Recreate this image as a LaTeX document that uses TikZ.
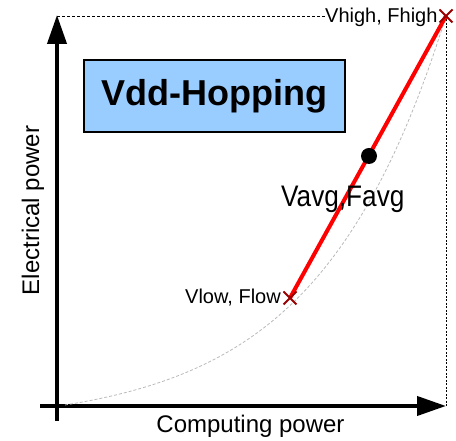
\documentclass[tikz,border=0pt]{standalone}
\usepackage{fontspec}
\setmainfont{Liberation Sans}
\begin{document}
\begin{tikzpicture}[x=1pt,y=1pt,
  axis/.style={line width=4pt, -{Triangle[length=29pt,width=19pt]}},
  guide/.style={black, line width=0.9pt, dash pattern=on 3pt off 2pt},
  curve/.style={gray!55, line width=0.8pt, dash pattern=on 3pt off 2pt},
  hop/.style={red, line width=4pt},
  mark cross/.style={draw=red!60!black, line width=1.9pt},
  lbl/.style={inner sep=0pt, font=\fontsize{20}{24}\selectfont},
  title/.style={draw=black, line width=1.5pt, fill={rgb,255:red,153;green,204;blue,255},
                minimum width=261pt, minimum height=72pt, inner sep=0pt,
                font=\fontsize{36}{40}\selectfont\bfseries}]
\usetikzlibrary{arrows.meta}
\useasboundingbox (0,0) rectangle (456,441);

% axes
\coordinate (yfoot) at (57,20);
\coordinate (ytip) at (57,426);
\coordinate (xfoot) at (40,35);
\coordinate (xtip) at (446,35);
\draw[axis] (yfoot) -- (ytip);
\draw[axis] (xfoot) -- (xtip);

% operating points
\coordinate (low) at (290,143);
\coordinate (high) at (446,425);
\coordinate (corner) at (57,425);

% theoretical power curve
\draw[curve] plot[domain=0:1, samples=80]
  ({65+381*\x}, {36+389*(exp(3*\x)-1)/(exp(3)-1)});

% labels of the extreme points
\node[lbl, anchor=base west] (hightxt) at (325,418) {Vhigh, Fhigh};
\node[lbl, anchor=base east] (lowtxt) at (281,137) {Vlow, Flow};

% guide lines to the high point
\draw[guide] (corner) -- (hightxt.west |- corner);
\draw[black, line width=0.9pt, dash pattern=on 2pt off 1.5pt] (high) -- (xtip);

% hopping segment and its mean point
\draw[hop] (low) -- (high);
\node[circle, fill=black, inner sep=0pt, minimum size=16pt] (avg) at (369,285) {};
\node[inner sep=0pt, anchor=base west, font=\fontsize{27}{30}\selectfont] (avgtxt) at (281,234)
  {\scalebox{0.97}[1.1]{Vavg,Favg}};

% crosses
\foreach \p in {low,high}{
  \draw[mark cross] ([shift={(-6.5,-6.5)}]\p) -- ([shift={(6.5,6.5)}]\p)
                    ([shift={(-6.5,6.5)}]\p) -- ([shift={(6.5,-6.5)}]\p);
}

% title box
\node[title] (box) at (214.5,345) {Vdd-Hopping};

% axis titles
\node[inner sep=0pt, rotate=90, font=\fontsize{24}{28}\selectfont] (ylab) at (33,230.5) {Electrical power};
\node[inner sep=0pt, anchor=base, font=\fontsize{24}{28}\selectfont] (xlab) at (250.5,8) {Computing power};
\end{tikzpicture}
\end{document}
